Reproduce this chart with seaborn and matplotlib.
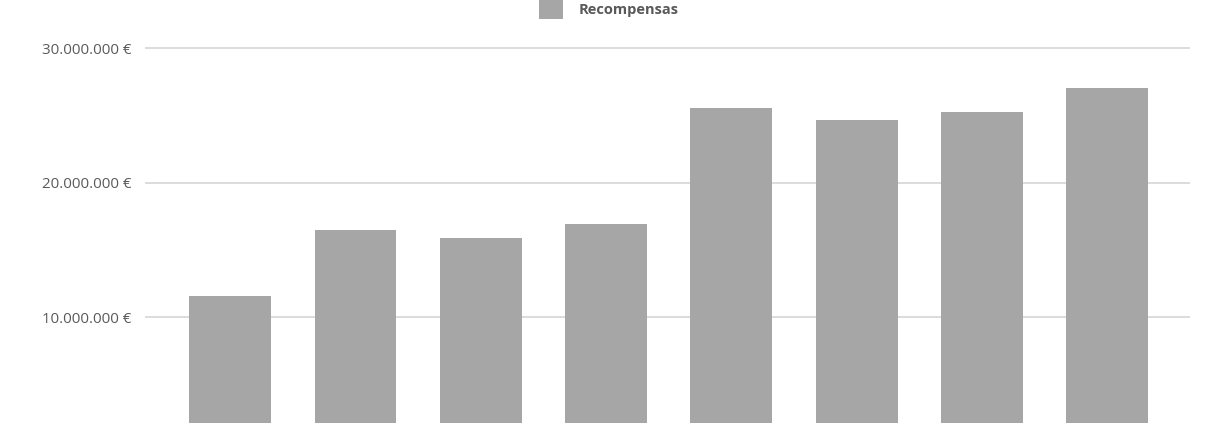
import matplotlib
matplotlib.use("Agg")
import matplotlib.pyplot as plt
import matplotlib.ticker as mticker
from matplotlib.patches import Patch
import seaborn as sns
import pandas as pd

# categories (x labels are cut off in the reference)
categorias = ["1", "2", "3", "4", "5", "6", "7", "8"]
recompensas = [11560000, 16470000, 15870000, 16910000,
               25540000, 24650000, 25240000, 27030000]
serie = "Recompensas"

df = pd.DataFrame({"categoria": categorias, "valor": recompensas})

sns.set_theme(style="white")
plt.rcParams["font.family"] = ["Open Sans", "DejaVu Sans"]

fig = plt.figure(figsize=(12.10, 4.23), dpi=100)
ax = fig.add_axes([145 / 1210, 0, 1045 / 1210, 1])

sns.barplot(data=df, x="categoria", y="valor", color="#a6a6a6",
            width=0.654, saturation=1, linewidth=0, ax=ax, zorder=2)

ax.set_xlim(-0.68, 7.66)
ax.set_ylim(2120000, 33570000)
ax.set_yticks([10000000, 20000000, 30000000])
ax.yaxis.set_major_formatter(mticker.FuncFormatter(
    lambda v, p: f"{int(v):,} €".replace(",", ".")))
ax.yaxis.grid(True, color="#d9d9d9", linewidth=1.3, zorder=0)
ax.set_axisbelow(True)
ax.tick_params(axis="y", length=0, pad=10, labelsize=10.8, labelcolor="#595959")
ax.set_xticklabels([])
ax.tick_params(axis="x", length=0)
ax.set_xlabel("")
ax.set_ylabel("")
for s in ax.spines.values():
    s.set_visible(False)

handle = Patch(facecolor="#a6a6a6", edgecolor="none", label=serie)
leg = fig.legend(handles=[handle], loc="center",
                 bbox_to_anchor=(609 / 1210, 1 - 9 / 423), frameon=False,
                 handlelength=1.65, handleheight=1.65, handletextpad=1.1,
                 borderaxespad=0, borderpad=0,
                 prop={"weight": "bold", "size": 10.5})
for t in leg.get_texts():
    t.set_color("#595959")

fig.savefig("out.png", dpi=100)
